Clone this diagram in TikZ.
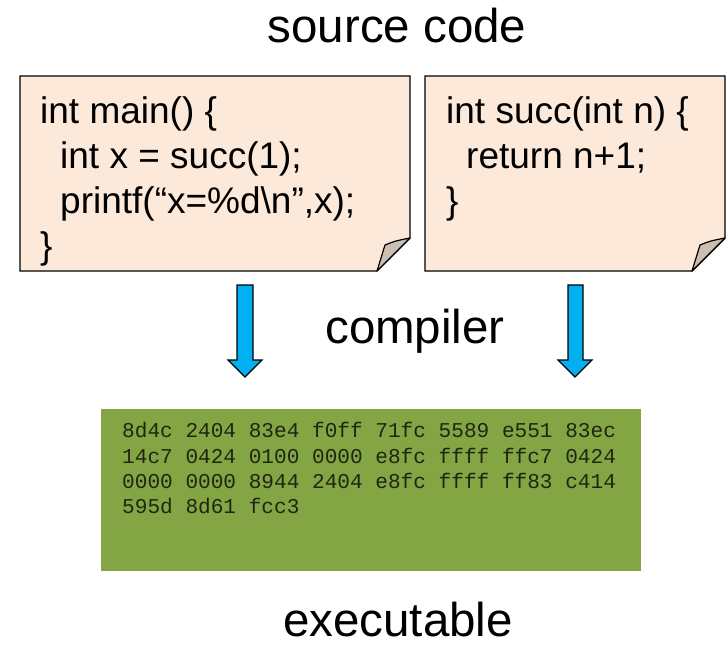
\documentclass[tikz,border=0pt]{standalone}
\usepackage{fontspec}
\setmainfont{Liberation Sans}
\newfontfamily\hexfont{Liberation Mono}
\definecolor{notefill}{HTML}{FDE9D9}
\definecolor{foldfill}{HTML}{CDBEB2}
\definecolor{arrowblue}{HTML}{00B0F0}
\definecolor{binfill}{HTML}{84A543}
\definecolor{hexink}{HTML}{1E2612}
\tikzset{
  note/.style={draw=black, line width=1.4pt, fill=notefill, line join=miter},
  fold/.style={draw=black, line width=1.2pt, fill=foldfill, line join=round},
  blockarrow/.style={draw=black, line width=1.1pt, fill=arrowblue, line join=miter},
  title/.style={font=\fontsize{47.5}{56}\selectfont, inner sep=0pt, anchor=base},
  codeline/.style={font=\fontsize{37}{45}\selectfont, inner sep=0pt, anchor=base west},
  hexline/.style={font=\hexfont\fontsize{21.1}{25}\selectfont, text=hexink, inner sep=0pt, anchor=base west},
}
\begin{document}
\begin{tikzpicture}[x=1pt, y=-1pt]
  \useasboundingbox (0,0) rectangle (726,648);

  % caption above the sources
  \node[title] (srclabel) at (397,42) {source code};

  % left source file: main()
  \draw[note] (20,76) -- (410,76) -- (410,238) -- (377,271) -- (20,271) -- cycle;
  \draw[fold] (377,271) -- (385,245) .. controls (395,241) .. (410,238) -- cycle;
  \node[codeline] (m1) at (40,123) {int main() \{};
  \node[codeline] (m2) at (60,168) {int x = succ(1);};
  \node[codeline] (m3) at (60,213) {printf(“x=\%d\textbackslash n”,x);};
  \node[codeline] (m4) at (40,258) {\}};

  % right source file: succ()
  \draw[note] (425,76) -- (725,76) -- (725,238) -- (692,271) -- (425,271) -- cycle;
  \draw[fold] (692,271) -- (700,245) .. controls (710,241) .. (725,238) -- cycle;
  \node[codeline] (s1) at (446,123) {int succ(int n) \{};
  \node[codeline] (s2) at (466,168) {return n+1;};
  \node[codeline] (s3) at (446,213) {\}};

  % compilation arrows
  \draw[blockarrow] (237,285) -- (253,285) -- (253,360) -- (262,360) -- (245,377)
    -- (228,360) -- (237,360) -- cycle;
  \draw[blockarrow] (568,285) -- (583,285) -- (583,360) -- (592,360) -- (575,377)
    -- (558,360) -- (568,360) -- cycle;
  \node[title] (complabel) at (415,343) {compiler};

  % machine code block
  \fill[binfill] (101,409) rectangle (641,571);
  \node[hexline] (h1) at (122,437) {8d4c 2404 83e4 f0ff 71fc 5589 e551 83ec};
  \node[hexline] (h2) at (122,463) {14c7 0424 0100 0000 e8fc ffff ffc7 0424};
  \node[hexline] (h3) at (122,488) {0000 0000 8944 2404 e8fc ffff ff83 c414};
  \node[hexline] (h4) at (122,513) {595d 8d61 fcc3};

  \node[title] (exelabel) at (398,636) {executable};
\end{tikzpicture}
\end{document}
